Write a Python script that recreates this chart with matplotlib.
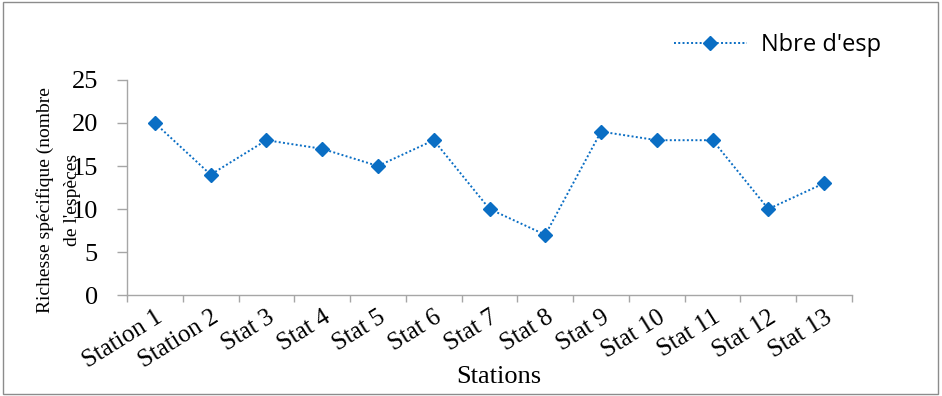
import matplotlib.pyplot as plt
from matplotlib.patches import Rectangle

stations = ["Station 1", "Station 2", "Stat 3", "Stat 4", "Stat 5", "Stat 6", "Stat 7",
            "Stat 8", "Stat 9", "Stat 10", "Stat 11", "Stat 12", "Stat 13"]
nbre_esp = [20, 14, 18, 17, 15, 18, 10, 7, 19, 18, 18, 10, 13]
y_ticks = [0, 5, 10, 15, 20, 25]

blue = "#0A6EC4"
gray = "#A6A6A6"
serif = "Liberation Serif"

fig = plt.figure(figsize=(9.42, 3.96), dpi=100)
fig.add_artist(Rectangle((0.003, 0.005), 0.993, 0.99, transform=fig.transFigure,
                         fill=False, edgecolor="#8C8C8C", linewidth=1))
ax = fig.add_axes([0.1348, 0.255, 0.7697, 0.543])

x = list(range(len(stations)))
ax.plot(x, nbre_esp, linestyle=(0, (1, 1.2)), linewidth=1.4, color=blue,
        marker="D", markersize=7, markerfacecolor=blue, markeredgecolor=blue,
        label="Nbre d'esp")

ax.set_xlim(-0.5, len(stations) - 0.5)
ax.set_ylim(0, 25)
ax.set_yticks(y_ticks)
ax.set_yticklabels([str(v) for v in y_ticks], fontfamily=serif, fontsize=19)
ax.set_xticks(x)
ax.set_xticklabels(stations, rotation=32, ha="right", rotation_mode="anchor",
                   fontfamily=serif, fontsize=18)
# tick marks at category boundaries
ax.set_xticks([i - 0.5 for i in range(len(stations) + 1)], minor=True)
ax.tick_params(axis="x", which="major", length=0, pad=8)
ax.tick_params(axis="x", which="minor", length=5, color=gray, width=1)
ax.tick_params(axis="y", length=7, color=gray, width=1, pad=14)

for s in ["top", "right"]:
    ax.spines[s].set_visible(False)
for s in ["left", "bottom"]:
    ax.spines[s].set_color(gray)
    ax.spines[s].set_linewidth(1)

ax.set_xlabel("Stations", fontfamily=serif, fontsize=19)
ax.xaxis.set_label_coords(0.513, -0.33)
ax.set_ylabel("Richesse spécifique (nombre\nde l'espèces", fontfamily=serif,
              fontsize=14, linespacing=1.7)
ax.yaxis.set_label_coords(-0.064, 0.44)

leg = fig.legend(loc="upper right", bbox_to_anchor=(0.958, 0.97), frameon=False,
                 prop={"family": "Open Sans", "size": 17}, handlelength=3.1,
                 handletextpad=0.6)

fig.savefig("out.png", dpi=100)
